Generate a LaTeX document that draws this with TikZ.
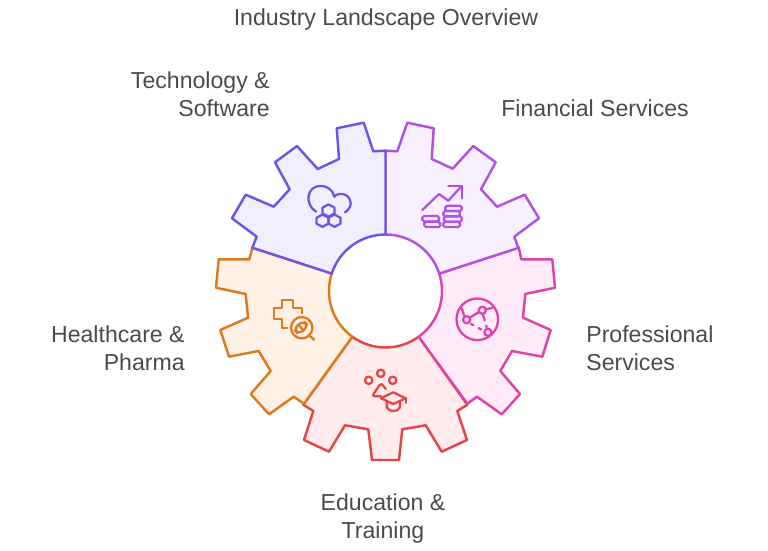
\documentclass[tikz,border=0pt]{standalone}
\usepackage{fontspec}
\setmainfont{Liberation Sans}
\definecolor{techline}{HTML}{6C56E6}
\definecolor{techfill}{HTML}{F1EFFE}
\definecolor{finline}{HTML}{B150E2}
\definecolor{finfill}{HTML}{F9F0FF}
\definecolor{profline}{HTML}{DD43A8}
\definecolor{proffill}{HTML}{FFEBF8}
\definecolor{eduline}{HTML}{E64545}
\definecolor{edufill}{HTML}{FFEBEB}
\definecolor{healline}{HTML}{DE7A1D}
\definecolor{healfill}{HTML}{FFF1E5}
\definecolor{labeltext}{HTML}{4A4A4A}
\tikzset{
  sector/.style={line width=1.4pt,line join=round},
  icon/.style={line width=1.3pt,line cap=round,line join=round},
  label/.style={text=labeltext,inner sep=0pt,font=\fontsize{13.15}{15.9}\selectfont}
}

\begin{document}
\begin{tikzpicture}[x=0.02cm,y=-0.02cm]
\useasboundingbox (0,0) rectangle (768,551);
\coordinate (hub) at (385.5,291);

\draw [sector,draw=eduline,fill=edufill] (hub) ++(54:56.5) arc[start angle=54,end angle=126,radius=56.5] -- (303.3,404.7) -- (313.3,411) -- (304,440) -- (329,451.7) -- (345,425.3) -- (368.3,429.3) -- (372,460) -- (399,460) -- (402.3,429.3) -- (425.7,425.3) -- (441.7,451.7) -- (467,440) -- (457.3,411) -- (467.3,404.7) -- cycle;
\draw [sector,draw=profline,fill=proffill] (hub) ++(342:56.5) arc[start angle=342,end angle=414,radius=56.5] -- (467.3,403.7) -- (477,396.7) -- (501.7,414.3) -- (520,394) -- (500.3,371) -- (512,351) -- (542.3,356.7) -- (550.7,330) -- (523,317.7) -- (525.3,294) -- (555,287.7) -- (552.3,259.3) -- (521.3,259.3) -- (518.7,247.3) -- cycle;
\draw [sector,draw=healline,fill=healfill] (hub) ++(126:56.5) arc[start angle=126,end angle=198,radius=56.5] -- (252.3,247.7) -- (249.3,259.3) -- (218.7,259.3) -- (216,287.7) -- (245.7,294) -- (248,317.7) -- (220.3,330) -- (229,356.7) -- (258.7,351) -- (270.7,371) -- (250.7,394) -- (269,414.3) -- (293.7,396.7) -- (304,403.7) -- cycle;
\draw [sector,draw=finline,fill=finfill] (hub) ++(270:56.5) arc[start angle=270,end angle=342,radius=56.5] -- (518.3,248) -- (514.3,236.7) -- (539,218.3) -- (524.7,194.7) -- (497,206.7) -- (481,189.3) -- (495.7,162.3) -- (473.3,146) -- (452.7,168.7) -- (431.7,159) -- (433.7,128.3) -- (407.3,122.7) -- (397.3,151.3) -- (385.5,150.7) -- cycle;
\draw [sector,draw=techline,fill=techfill] (hub) ++(198:56.5) arc[start angle=198,end angle=270,radius=56.5] -- (385.5,150.7) -- (373.3,151.3) -- (363.7,122.7) -- (336.7,128.3) -- (339,159) -- (317.7,169) -- (297,146) -- (275,162.3) -- (289.7,189.3) -- (273.7,206.7) -- (245.7,194.7) -- (232,218.3) -- (256.7,236.7) -- (252.3,247.7) -- cycle;

% cloud
\draw [icon,techline] (316,211.7) .. controls (304,204) and (307,186) .. (320,186) .. controls (327,185.5) and (333,190) .. (334.3,196.7) .. controls (337,192.5) and (350,192) .. (350.7,203.3) .. controls (350.7,207) and (348,210.5) .. (345,212.3);
\foreach \hx/\hy in {328.5/210.5,322.5/220.7,334.5/220.7}
  \draw [icon,techline] (\hx,\hy-6.1) -- (\hx+5.9,\hy-3) -- (\hx+5.9,\hy+3) -- (\hx,\hy+6.1) -- (\hx-5.9,\hy+3) -- (\hx-5.9,\hy-3) -- cycle;

% chart
\draw [icon,finline] (422.3,210) -- (439,194) -- (448.3,200.7) -- (461.7,186);
\draw [icon,finline] (448.3,186) -- (461.7,186) -- (461.7,198.3);
\foreach \cx/\cy/\cw in {422.3/216/16.7,424.3/221.7/16,445.3/205.7/16.4,443.3/211/16.7,444/216.3/17.7,443.3/221.7/16.7}
  \draw [icon,finline,rounded corners=1] (\cx,\cy) rectangle ++(\cw,5.4);

% network
\draw [icon,profline] (477.3,319.3) circle (20.8);
\foreach \nx/\ny in {466.7/319.7,482.3/310.3,488/332.3}
  \draw [icon,profline] (\nx,\ny) circle (3.6);
\draw [icon,profline] (470,317.5) -- (479,312);
\draw [icon,profline] (461.7,308.3) -- (464.3,316);
\draw [icon,profline] (486,309.3) -- (492.7,307.7);
\draw [icon,profline,dash pattern=on 3.5pt off 3pt] (483,314.5) -- (486.7,327.5);
\draw [icon,profline,dash pattern=on 1.5pt off 3.5pt] (471,324) -- (484,331);

% education
\foreach \ex/\ey in {368.7/380.3,380.7/373.3,392.7/380.3}
  \draw [icon,eduline] (\ex,\ey) circle (3.7);
\draw [icon,eduline,rounded corners=1.5] (385.7,389) -- (381,383) -- (372,396.3) -- (381,396.3);
\draw [icon,eduline] (381,398.3) -- (393.3,392.3) -- (405.7,398.3) -- (393.3,404) -- cycle;
\draw [icon,eduline] (405.7,398.3) -- (405.7,402.7);
\draw [icon,eduline] (386.7,401.7) -- (386.7,407.3) .. controls (388,410) and (391,411) .. (393.3,411) .. controls (396,411) and (399,410) .. (400,407.3) -- (400,401.7);

% medical
\draw [icon,healline] (287.3,327.7) -- (282.3,327.7) -- (282.3,318.7) -- (274,318.7) -- (274,308.3) -- (282.3,308.3) -- (282.3,299.7) -- (293.3,299.7) -- (293.3,308.3) -- (302,308.3) -- (302,313.3);
\draw [icon,healline] (301.7,327.7) circle (10.7);
\draw [icon,healline] (309,335) -- (314,339.7);
\draw [icon,healline,rounded corners=3.4,rotate around={40:(301,327.5)}] (294.5,323.6) rectangle (307.5,331.4);
\draw [icon,healline,rotate around={40:(301,327.5)}] (301,323.6) -- (301,331.4);

\node [label] (title) at (386,19.7) {Industry Landscape Overview};
\node [label,anchor=east,align=right] (tech) at (270,94.3) {Technology \&\\Software};
\node [label,anchor=west] (fin) at (501,108.3) {Financial Services};
\node [label,anchor=west,align=left] (prof) at (586,348.3) {Professional\\Services};
\node [label,anchor=east,align=right] (heal) at (185,348.3) {Healthcare \&\\Pharma};
\node [label,align=center] (edu) at (383,518.7) {Education \&\\Training};
\end{tikzpicture}
\end{document}
